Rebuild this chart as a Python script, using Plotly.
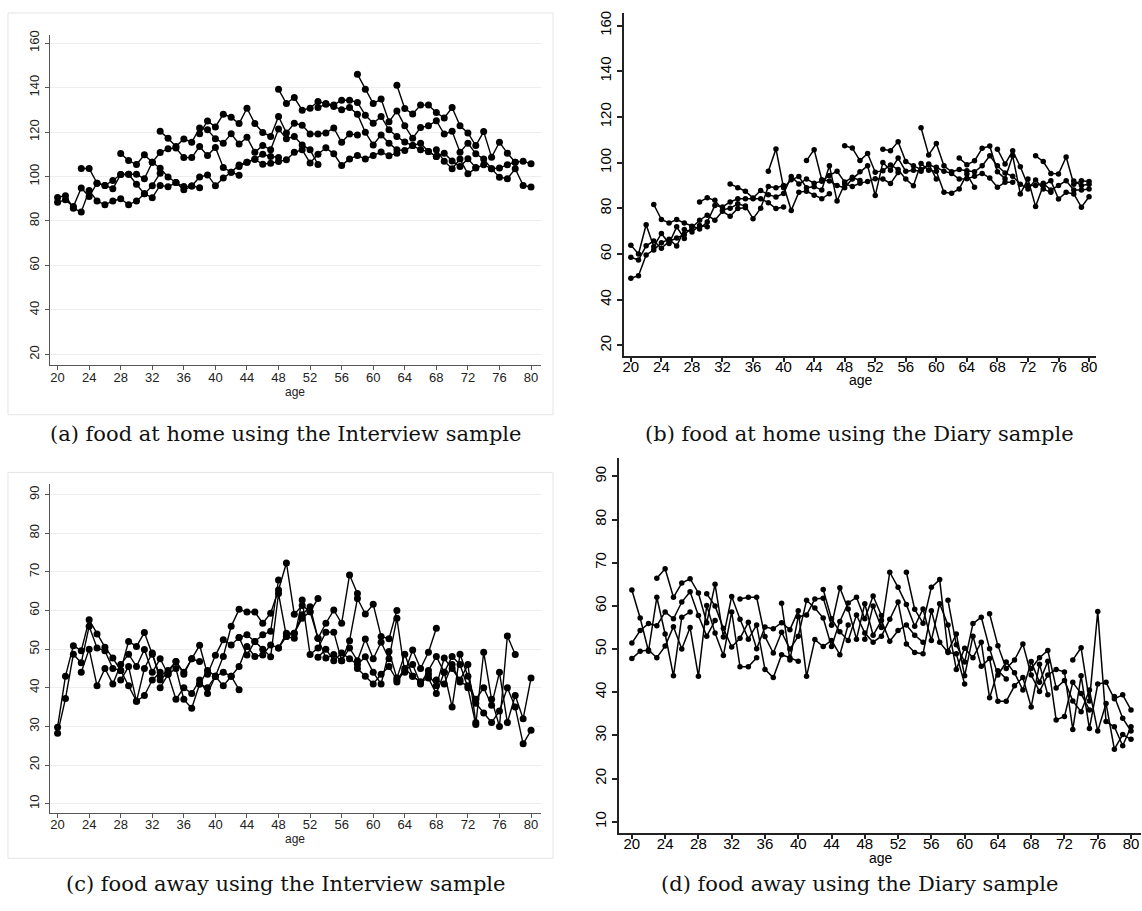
import plotly.graph_objects as go

# ---------------- data ----------------
age_ticks = list(range(20, 81, 4))
a_ticks = list(range(20, 161, 20))
b_ticks = list(range(20, 161, 20))
c_ticks = list(range(10, 91, 10))
d_ticks = list(range(10, 91, 10))

# Interview sample cohorts (first age of each line)
interview_starts = [20, 20, 23, 28, 33, 38, 43, 48, 53, 58, 63, 68]
# Diary sample cohorts (first age of each line)
diary_starts = [20, 20, 20, 23, 29, 33, 38, 43, 48, 53, 58, 63, 68, 73, 78]

# (a) food at home, Interview sample
a_vals = [
    [88.4, 89.5, 86.5, 94.8, 91.0, 97.0, 96.0, 98.2, 100.9, 101.0, 96.5, 92.2, 95.9, 101.5],
    [90.6, 91.4, 85.7, 84.1, 93.7, 89.0, 87.3, 89.0, 90.0, 87.3, 89.0, 92.2, 90.5, 96.0, 95.4, 97.3, 94.0, 95.7, 95.0],
    [103.6, 103.6, 97.0, 96.0, 94.5, 100.9, 101.0, 101.0, 99.0, 106.4, 103.7, 99.8, 97.3, 95.5, 95.7, 99.8, 100.7, 95.9, 99.3, 101.9, 100.6],
    [110.3, 107.2, 105.4, 109.8, 106.4, 110.8, 112.5, 112.8, 108.5, 108.5, 113.5, 109.4, 113.1, 104.1, 101.9, 105.2, 106.4, 107.8, 110.0, 109.0, 108.6],
    [120.3, 117.2, 113.5, 116.9, 115.4, 121.8, 121.0, 117.0, 115.0, 119.2, 114.6, 117.6, 110.9, 114.0, 112.0, 121.4, 117.0, 118.0, 114.2, 112.0, 105.4],
    [119.2, 125.0, 122.3, 128.0, 126.6, 123.8, 130.7, 123.8, 119.8, 118.0, 127.0, 119.6, 123.9, 123.1, 119.1, 119.1, 119.6, 121.8, 115.4, 119.1, 118.7],
    [104.5, 106.4, 107.8, 105.5, 106.0, 106.8, 107.5, 110.9, 112.0, 106.1, 110.0, 112.9, 110.2, 105.0, 107.9, 109.4, 107.9, 109.5, 111.0, 109.3, 110.5],
    [139.2, 132.8, 135.5, 129.8, 130.7, 133.7, 132.8, 132.2, 134.3, 134.3, 133.3, 127.6, 123.9, 127.0, 121.0, 118.0, 115.5, 113.9, 115.0, 111.2, 109.0],
    [131.0, 132.5, 131.5, 130.0, 131.0, 128.0, 119.9, 114.2, 118.7, 115.0, 112.0, 111.7, 113.9, 112.0, 111.2, 109.0, 110.5, 107.0, 104.5, 108.0, 104.0],
    [146.0, 139.2, 132.8, 134.8, 124.6, 129.5, 122.8, 117.2, 122.0, 122.8, 125.1, 119.1, 120.3, 110.9, 115.0, 110.2, 107.9, 103.5, 103.8, 105.3, 106.4],
    [141.0, 130.6, 128.1, 132.1, 132.1, 128.8, 126.3, 131.0, 122.8, 119.6, 113.9, 120.2, 108.7, 115.4, 110.5, 106.4, 106.9, 105.7],
    [112.0, 106.9, 103.5, 107.9, 101.2, 103.8, 105.3, 103.5, 99.7, 99.0, 103.5, 96.0, 95.3],
]

# (b) food at home, Diary sample
b_vals = [
    [63.9, 60.0, 72.8, 63.2, 69.0, 64.6, 71.9, 66.8],
    [49.4, 50.5, 59.6, 61.8, 64.9, 66.5, 63.5, 70.7, 69.7, 72.5, 71.9],
    [58.6, 57.4, 63.6, 65.7, 62.5, 65.5, 67.0, 68.5, 71.6, 74.8, 77.0, 74.8, 78.7, 76.5, 79.9, 80.3],
    [81.7, 75.1, 73.6, 75.1, 73.6, 72.2, 71.0, 74.0, 81.3, 80.6, 82.8, 84.2, 84.2, 84.2, 84.2, 82.5, 79.9, 80.6],
    [82.8, 84.6, 83.5, 79.4, 80.0, 82.0, 81.0, 75.5, 80.0, 89.6, 89.0, 90.0, 79.1, 87.1, 87.5, 85.7, 84.2, 86.4],
    [90.7, 89.0, 87.5, 84.5, 87.8, 86.0, 85.0, 86.5, 93.9, 90.7, 92.8, 91.0, 91.9, 94.4, 96.2, 91.5, 93.6, 92.2],
    [96.2, 106.0, 89.0, 92.5, 93.9, 89.0, 89.5, 88.0, 98.7, 83.2, 90.7, 89.6, 91.0, 91.8, 93.0, 92.8, 90.9, 95.7],
    [100.9, 105.7, 92.5, 92.0, 90.0, 89.0, 92.9, 96.0, 98.7, 85.6, 100.1, 96.7, 102.0, 96.2, 96.7, 96.2, 99.4, 92.8],
    [107.4, 106.4, 100.9, 104.0, 95.8, 96.5, 99.0, 97.0, 92.8, 89.9, 99.6, 96.7, 96.2, 87.0, 86.6, 88.5, 95.0, 89.2],
    [105.9, 105.2, 109.2, 100.5, 98.6, 97.0, 99.0, 98.0, 96.2, 95.3, 92.8, 93.0, 94.0, 95.3, 93.3, 89.2, 91.4, 91.4],
    [115.3, 103.4, 108.4, 98.6, 96.0, 97.0, 96.5, 96.0, 98.6, 103.0, 98.6, 95.5, 94.0, 90.6, 88.5, 92.4, 88.5, 87.0],
    [102.0, 99.1, 100.8, 106.3, 107.3, 96.0, 93.0, 103.0, 86.3, 92.8, 80.8, 90.0, 92.1, 84.1, 87.0, 86.3, 80.5, 85.1],
    [105.9, 99.4, 105.2, 98.2, 90.0, 90.0, 91.0, 88.0, 90.0, 92.1, 88.0, 88.0, 88.5],
    [103.0, 100.5, 95.3, 95.0, 102.5, 90.6, 92.1, 91.8],
    [92.0, 90.0, 90.5],
]

# (c) food away, Interview sample
c_vals = [
    [28.2, 37.2, 48.7, 46.5, 55.9, 50.3, 49.6, 45.0, 44.5, 40.5, 36.5, 38.0, 42.0, 44.0],
    [29.8, 43.0, 50.9, 49.6, 57.6, 53.9, 50.5, 47.7, 44.5, 52.0, 50.7, 54.3, 48.7, 43.0, 44.5, 46.8, 44.0, 47.5, 46.8],
    [44.0, 50.0, 40.5, 45.0, 41.0, 46.0, 48.7, 45.5, 49.9, 44.0, 47.5, 43.5, 45.0, 37.0, 34.7, 41.0, 44.5, 43.0, 40.5, 43.0, 39.5],
    [42.0, 45.5, 36.5, 45.0, 49.0, 42.0, 44.0, 46.8, 43.5, 47.5, 51.0, 43.5, 48.4, 52.4, 51.1, 53.0, 53.7, 52.0, 53.7, 54.6, 67.9],
    [40.0, 43.5, 37.0, 40.0, 38.5, 42.0, 38.5, 43.0, 48.1, 55.9, 60.3, 59.6, 59.6, 56.7, 59.3, 65.3, 72.3, 59.0, 61.3, 59.7, 63.1],
    [41.0, 40.0, 43.0, 44.0, 43.0, 45.5, 50.7, 48.1, 48.5, 51.1, 50.3, 54.1, 54.1, 58.9, 61.0, 52.8, 56.7, 60.1, 56.7, 69.2, 64.4],
    [53.0, 48.5, 52.0, 50.0, 48.0, 64.4, 53.3, 52.8, 62.7, 48.6, 50.3, 54.4, 54.4, 47.0, 52.2, 63.1, 59.1, 61.6, 53.3, 52.7, 60.0],
    [50.3, 53.3, 54.1, 58.0, 59.7, 52.8, 47.7, 48.6, 47.0, 50.3, 47.0, 52.6, 47.5, 51.8, 47.5, 58.0, 44.0, 49.8, 45.0, 49.2, 55.4],
    [47.9, 50.0, 47.0, 49.0, 47.5, 46.0, 48.0, 44.0, 41.0, 49.4, 42.5, 48.7, 43.0, 41.5, 43.5, 40.5, 47.7, 45.0, 42.0, 46.0, 31.0],
    [45.0, 43.0, 41.0, 43.5, 45.5, 42.0, 45.0, 43.0, 41.5, 42.5, 38.5, 44.0, 48.1, 46.0, 40.0, 30.5, 49.2, 37.0, 30.0, 53.4, 48.6],
    [41.5, 44.5, 46.0, 41.0, 44.5, 48.1, 44.0, 35.0, 48.7, 43.0, 36.0, 33.5, 31.0, 34.0, 40.0, 35.0, 25.5, 29.0],
    [42.0, 41.0, 46.0, 41.5, 40.5, 37.0, 40.0, 35.5, 44.0, 31.0, 38.0, 32.0, 42.5],
]

# (d) food away, Diary sample
d_vals = [
    [63.7, 57.2, 49.5, 62.0, 53.5, 43.8, 57.4, 58.6],
    [51.4, 54.3, 55.9, 55.4, 58.6, 57.0, 60.9, 63.3, 57.8, 53.0, 56.6],
    [47.8, 49.5, 49.8, 48.0, 50.7, 55.2, 50.0, 55.0, 43.7, 60.1, 53.7, 48.5, 58.6, 45.9, 45.9, 48.0],
    [66.4, 68.6, 62.0, 65.3, 66.3, 63.0, 56.1, 65.0, 52.8, 62.2, 56.9, 52.3, 55.6, 45.3, 43.4, 48.7, 48.0, 47.2],
    [62.8, 60.0, 54.8, 50.5, 52.5, 56.2, 50.1, 55.1, 54.7, 56.1, 54.5, 58.9, 43.7, 52.2, 50.6, 52.0, 48.7, 55.6],
    [61.6, 62.0, 62.0, 52.9, 49.1, 53.9, 50.0, 53.0, 61.3, 59.5, 57.2, 50.6, 56.4, 60.7, 62.0, 57.0, 62.3, 57.8],
    [60.6, 47.5, 57.5, 57.9, 61.6, 61.8, 55.5, 64.2, 59.3, 52.3, 60.5, 53.2, 56.6, 51.8, 54.3, 55.6, 53.2, 51.6],
    [63.8, 57.0, 54.0, 52.0, 57.9, 53.7, 51.6, 53.0, 56.9, 60.9, 51.2, 49.2, 48.9, 58.9, 51.6, 49.2, 48.9, 41.9],
    [52.3, 60.0, 55.0, 67.8, 64.3, 60.3, 55.3, 59.3, 52.0, 60.5, 55.6, 45.3, 50.2, 48.0, 51.6, 38.7, 45.0, 43.1],
    [67.8, 59.2, 56.0, 64.3, 66.1, 49.5, 53.5, 43.8, 53.0, 46.0, 47.8, 37.9, 37.9, 41.5, 43.4, 36.6, 46.5, 39.4],
    [61.3, 51.0, 47.0, 55.9, 57.4, 50.1, 44.0, 47.0, 44.5, 40.5, 47.1, 42.3, 47.2, 33.6, 34.4, 42.3, 39.7, 35.9],
    [58.2, 50.8, 45.5, 47.5, 51.2, 44.0, 40.2, 44.0, 45.3, 44.7, 31.4, 43.8, 31.6, 41.9, 42.3, 38.5, 39.4, 35.9],
    [45.5, 48.0, 49.7, 41.0, 42.7, 38.0, 35.5, 40.5, 31.0, 37.4, 26.8, 30.2, 29.1],
    [47.5, 50.3, 38.0, 58.7, 33.2, 32.0, 27.6, 32.0],
    [39.0, 34.0, 31.0],
]

captions = [
    "(a) food at home using the Interview sample",
    "(b) food at home using the Diary sample",
    "(c) food away using the Interview sample",
    "(d) food away using the Diary sample",
]

# ---------------- figure ----------------
W, H = 1142, 911


def fx(p):
    return p / W


def fy(p):
    return 1 - p / H


fig = go.Figure()


def add_lines(starts, series, xa, ya, msize, lw):
    for s, vals in zip(starts, series):
        ages = list(range(s, s + len(vals)))
        fig.add_trace(go.Scatter(
            x=ages, y=vals, xaxis=xa, yaxis=ya, mode="lines+markers",
            line=dict(color="black", width=lw),
            marker=dict(color="black", size=msize),
            showlegend=False, hoverinfo="skip"))


add_lines(interview_starts, a_vals, "x", "y", 7, 1.4)
add_lines(diary_starts, b_vals, "x2", "y2", 5.5, 1.5)
add_lines(interview_starts, c_vals, "x3", "y3", 7, 1.4)
add_lines(diary_starts, d_vals, "x4", "y4", 5.5, 1.5)

font_ac = dict(family="Liberation Sans, Arial, sans-serif", size=13, color="#222222")
font_bd = dict(family="Liberation Sans, Arial, sans-serif", size=15, color="#000000")


def x_ac(domain, rng, anchor):
    return dict(domain=domain, range=rng, tickvals=age_ticks, ticks="outside",
                ticklen=4, tickwidth=1, tickcolor="#555555", showline=True,
                linecolor="#555555", linewidth=1, showgrid=False, zeroline=False,
                tickfont=font_ac, anchor=anchor, fixedrange=True,
                ticklabelstandoff=-4)


def y_ac(domain, rng, ticks, anchor):
    return dict(domain=domain, range=rng, tickvals=ticks, ticks="outside",
                ticklen=4, tickwidth=1, tickcolor="#555555", showline=True,
                linecolor="#555555", linewidth=1, showgrid=True,
                gridcolor="#eeeeee", gridwidth=1, zeroline=False, tickangle=-90,
                tickfont=font_ac, anchor=anchor, fixedrange=True)


def x_bd(domain, rng, anchor, standoff):
    return dict(domain=domain, range=rng, tickvals=age_ticks, ticks="outside",
                ticklen=4, tickwidth=1.5, tickcolor="#222222", showline=True,
                linecolor="#222222", linewidth=2, showgrid=False, zeroline=False,
                tickfont=font_bd, anchor=anchor, fixedrange=True,
                ticklabelstandoff=standoff)


def y_bd(domain, rng, ticks, anchor):
    return dict(domain=domain, range=rng, tickvals=ticks, ticks="outside",
                ticklen=5, tickwidth=1.5, tickcolor="#222222", showline=True,
                linecolor="#222222", linewidth=2, showgrid=False, zeroline=False,
                tickangle=-90, tickfont=font_bd, anchor=anchor, fixedrange=True)


fig.update_layout(
    width=W, height=H, autosize=False,
    margin=dict(l=0, r=0, t=0, b=0),
    paper_bgcolor="white", plot_bgcolor="white",
    showlegend=False,
    xaxis=x_ac([fx(48.7), fx(541)], [18.99, 81.27], "y"),
    yaxis=y_ac([fy(362), fy(30)], [15.25, 163.7], a_ticks, "x"),
    xaxis2=x_bd([fx(623.7), fx(1097)], [19.05, 80.92], "y2", -8),
    yaxis2=y_bd([fy(353), fy(8)], [15.34, 165.53], b_ticks, "x2"),
    xaxis3=x_ac([fx(48.7), fx(541)], [18.99, 81.27], "y3"),
    yaxis3=y_ac([fy(812), fy(482)], [7.71, 92.65], c_ticks, "x3"),
    xaxis4=x_bd([fx(619.3), 1.0], [18.48, 81.2], "y4", -8),
    yaxis4=y_bd([fy(833), fy(455)], [7.30, 94.38], d_ticks, "x4"),
)

# light outer frames of the Stata-style panels (a) and (c)
for top, bottom in [(8, 412), (470, 858)]:
    fig.add_shape(type="rect", xref="paper", yref="paper",
                  x0=fx(7), x1=fx(553), y0=fy(bottom), y1=fy(top),
                  line=dict(color="#e4e4e4", width=1), fillcolor="rgba(0,0,0,0)",
                  layer="below")

# axis titles "age"
age_pos = [(295, 389, font_ac), (862, 377, font_bd), (295, 839, font_ac), (882, 858, font_bd)]
for x, y, f in age_pos:
    ff = dict(f)
    ff["size"] = f["size"] - 1
    fig.add_annotation(text="age", xref="paper", yref="paper", x=fx(x), y=fy(y),
                       showarrow=False, font=ff, xanchor="center", yanchor="middle")

# sub-figure captions
cap_pos = [(285, 431), (860, 431), (285, 884), (860, 884)]
for txt, (x, y) in zip(captions, cap_pos):
    fig.add_annotation(text=txt, xref="paper", yref="paper", x=fx(x), y=fy(y),
                       showarrow=False, xanchor="center", yanchor="middle",
                       font=dict(family="DejaVu Serif, Liberation Serif, serif",
                                 size=21, color="#111111"))

fig.write_html("out.html")
